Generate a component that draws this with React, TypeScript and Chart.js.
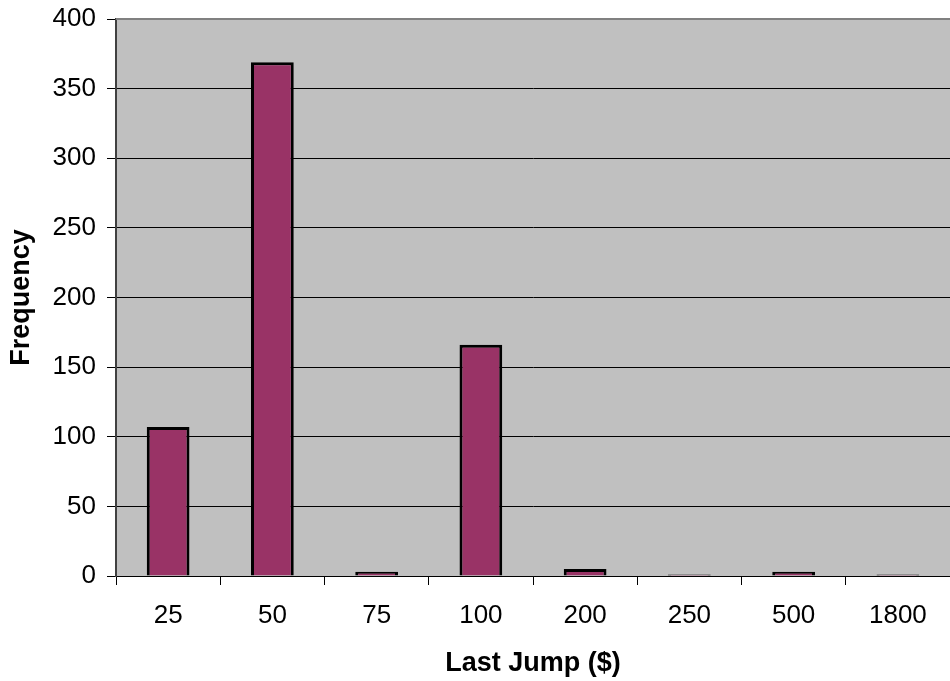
import React, { useEffect, useRef } from "react";
import { Chart, registerables } from "chart.js";

Chart.register(...registerables);

const categories = ["25", "50", "75", "100", "200", "250", "500", "1800"];
const frequency = [107, 369, 3, 166, 5, 1, 3, 1];
const yTicksMax = 400;
const yTickStep = 50;
const xTitle = "Last Jump ($)";
const yTitle = "Frequency";

const plotBg = {
  id: "plotBg",
  beforeDraw(chart: any) {
    const { ctx, chartArea } = chart;
    ctx.save();
    ctx.fillStyle = "#C0C0C0";
    ctx.fillRect(chartArea.left, chartArea.top, chartArea.right - chartArea.left, chartArea.bottom - chartArea.top);
    ctx.restore();
  },
  afterDraw(chart: any) {
    const { ctx, chartArea } = chart;
    ctx.save();
    ctx.strokeStyle = "#808080";
    ctx.lineWidth = 2;
    ctx.beginPath();
    ctx.moveTo(chartArea.left, chartArea.top);
    ctx.lineTo(chartArea.right, chartArea.top);
    ctx.stroke();
    ctx.restore();
  },
};

export default function App() {
  const ref = useRef<HTMLCanvasElement>(null);
  useEffect(() => {
    if (!ref.current) return;
    const font = "'Liberation Sans', Arial, sans-serif";
    const chart = new Chart(ref.current, {
      type: "bar",
      data: {
        labels: categories,
        datasets: [
          {
            data: frequency,
            backgroundColor: "#993366",
            borderColor: "#000000",
            borderWidth: 3,
            categoryPercentage: 1,
            barPercentage: 0.41,
          },
        ],
      },
      options: {
        animation: false,
        responsive: false,
        layout: { padding: { top: 19, left: 0, right: 0, bottom: 0 } },
        plugins: { legend: { display: false }, tooltip: { enabled: false } },
        scales: {
          x: {
            grid: { display: true, drawOnChartArea: false, drawTicks: true, tickLength: 9, color: "#000000", offset: true },
            border: { display: true, color: "#000000", width: 1 },
            ticks: { color: "#000000", font: { family: font, size: 26 }, padding: 15, maxRotation: 0 },
            title: { display: true, text: xTitle, color: "#000000", font: { family: font, size: 27, weight: "bold" }, padding: { top: 0, bottom: 1 } },
            afterFit(scale: any) {
              scale.height = 105;
              scale.paddingLeft = 0;
              scale.paddingRight = 0;
            },
          },
          y: {
            min: 0,
            max: yTicksMax,
            grid: { color: "#000000", lineWidth: 1, tickLength: 9, drawTicks: true },
            border: { display: true, color: "#404040", width: 2 },
            ticks: { stepSize: yTickStep, color: "#000000", font: { family: font, size: 26 }, padding: 11 },
            title: { display: true, text: yTitle, color: "#000000", font: { family: font, size: 27, weight: "bold" }, padding: { top: 5, bottom: 0 } },
            afterFit(scale: any) {
              scale.width = 116;
              scale.paddingTop = 0;
              scale.paddingBottom = 0;
            },
          },
        },
      },
      plugins: [plotBg],
    });
    return () => chart.destroy();
  }, []);
  return (
    <div style={{ position: "absolute", left: 0, top: 0, width: 950, height: 681, background: "#ffffff" }}>
      <canvas ref={ref} width={950} height={681} style={{ display: "block" }} />
    </div>
  );
}
